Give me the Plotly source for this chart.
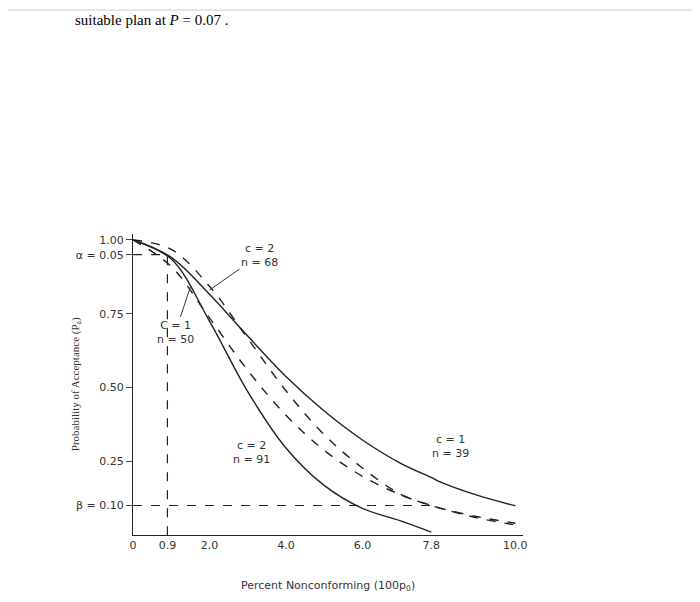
import plotly.graph_objects as go

p = [0, 1, 2, 3, 4, 5, 6, 7, 7.8, 8, 9, 10]
c2n91 = [1.0, 0.935, 0.725, 0.486, 0.295, 0.168, 0.09, 0.048, 0.01, None, None, None]
c1n50 = [1.0, 0.91, 0.736, 0.558, 0.406, 0.287, 0.199, 0.136, 0.10, 0.092, 0.062, 0.04]
c2n68 = [1.0, 0.968, 0.843, 0.666, 0.489, 0.34, 0.227, 0.138, 0.10, 0.092, 0.058, 0.034]
c1n39 = [1.0, 0.941, 0.816, 0.674, 0.537, 0.42, 0.322, 0.243, 0.195, 0.182, 0.135, 0.099]
xticks = [0, 0.9, 2.0, 4.0, 6.0, 7.8, 10.0]
xlabels = ["0", "0.9", "2.0", "4.0", "6.0", "7.8", "10.0"]
yticks = [0.10, 0.25, 0.50, 0.75, 0.95, 1.00]
ylabels = ["β = 0.10", "0.25", "0.50", "0.75", "α = 0.05", "1.00"]

fig = go.Figure()
ln = dict(color="#222", width=1.4)
fig.add_trace(go.Scatter(x=p, y=c2n91, mode="lines", line=dict(shape="spline", **ln)))
fig.add_trace(go.Scatter(x=p, y=c1n39, mode="lines", line=dict(shape="spline", **ln)))
fig.add_trace(go.Scatter(x=p, y=c1n50, mode="lines", line=dict(shape="spline", dash="dash", **ln)))
fig.add_trace(go.Scatter(x=p, y=c2n68, mode="lines", line=dict(shape="spline", dash="dash", **ln)))
fig.add_trace(go.Scatter(x=[0, 0.9, 0.9], y=[0.95, 0.95, 0], mode="lines", line=dict(color="#222", width=1.2, dash="dash")))
fig.add_trace(go.Scatter(x=[0, 7.8], y=[0.10, 0.10], mode="lines", line=dict(color="#222", width=1.2, dash="dash")))

f = dict(family="DejaVu Sans", size=11, color="#333")
ann = [
    dict(x=2.0, y=0.83, text="c = 2<br>n = 68", ax=50, ay=-35, showarrow=True),
    dict(x=1.5, y=0.84, text="C = 1<br>n = 50", ax=-15, ay=45, showarrow=True),
    dict(x=3.1, y=0.28, text="c = 2<br>n = 91", showarrow=False),
    dict(x=8.3, y=0.30, text="c = 1<br>n = 39", showarrow=False),
]
for a in ann:
    fig.add_annotation(font=f, arrowhead=0, arrowwidth=1, arrowcolor="#333", **a)
fig.add_annotation(x=0.3, y=-0.15, xref="x", yref="y", text="AQL", showarrow=False, font=f)
fig.add_annotation(x=8.7, y=-0.15, xref="x", yref="y", text="LQL", showarrow=False, font=f)
fig.add_annotation(x=0.5, y=-0.2, xref="paper", yref="paper", text="Percent Nonconforming (100p<sub>0</sub>)",
                   showarrow=False, font=f)
fig.add_annotation(x=-0.17, y=0.5, xref="paper", yref="paper", text="Probability of Acceptance (P<sub>a</sub>)",
                   showarrow=False, textangle=-90, font=dict(family="Liberation Serif", size=11, color="#333"))
fig.add_annotation(x=-60/390, y=1.71, xref="paper", yref="paper", text="suitable plan at <i>P</i> = 0.07 .",
                   showarrow=False, xanchor="left", yanchor="middle", font=dict(family="Liberation Serif", size=15, color="#000"))
fig.update_layout(
    width=700, height=602, showlegend=False, plot_bgcolor="white", paper_bgcolor="white",
    margin=dict(l=125, r=185, t=226, b=75),
    xaxis=dict(range=[0, 10.2], tickvals=xticks, ticktext=xlabels, showgrid=False, zeroline=False,
               showline=True, linecolor="#222", tickfont=f, ticks=""),
    yaxis=dict(range=[0, 1.02], tickvals=yticks, ticktext=ylabels, showgrid=False, zeroline=False,
               showline=True, linecolor="#222", tickfont=f, ticks="outside", ticklen=6),
)
fig.add_shape(type="line", xref="paper", yref="paper", x0=-125/390, x1=575/390, y0=1.744, y1=1.744,
              line=dict(color="#ccc", width=1))
fig.write_html("out.html")
